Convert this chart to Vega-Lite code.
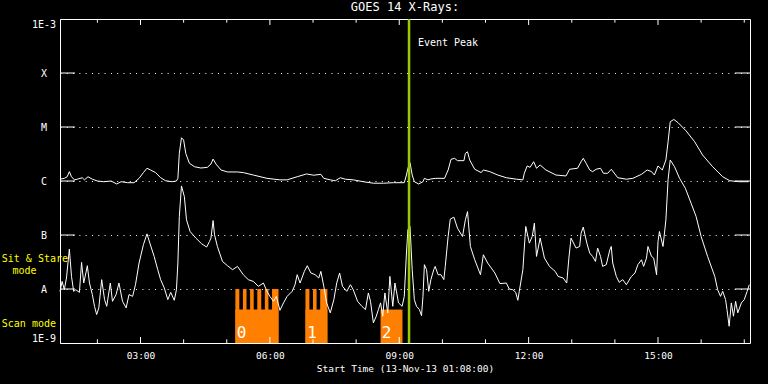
{
"$schema": "https://vega.github.io/schema/vega-lite/v6.json",
"background": "black",
"autosize": {"type": "none"},
"padding": {"left": 60, "top": 19, "right": 18, "bottom": 41},
"width": 690,
"height": 324,
"title": {"text": "GOES 14 X-Rays:", "color": "white", "font": "DejaVu Sans Mono", "fontSize": 12, "fontWeight": "normal", "offset": 4},
"config": {"view": {"stroke": "white", "strokeWidth": 1}},
"layer": [
{
"data": {"values": [
{"t1":"2013-11-13T05:12:00","t2":"2013-11-13T06:12:00","lo":1e-9,"hi":4.16e-9},
{"t1":"2013-11-13T05:12:00","t2":"2013-11-13T05:17:30","lo":1e-9,"hi":1e-8},
{"t1":"2013-11-13T05:22:30","t2":"2013-11-13T05:27:30","lo":1e-9,"hi":1e-8},
{"t1":"2013-11-13T05:32:30","t2":"2013-11-13T05:37:30","lo":1e-9,"hi":1e-8},
{"t1":"2013-11-13T05:42:30","t2":"2013-11-13T05:48:00","lo":1e-9,"hi":1e-8},
{"t1":"2013-11-13T05:53:00","t2":"2013-11-13T05:58:00","lo":1e-9,"hi":1e-8},
{"t1":"2013-11-13T06:03:00","t2":"2013-11-13T06:12:00","lo":1e-9,"hi":1e-8},
{"t1":"2013-11-13T06:49:30","t2":"2013-11-13T07:20:00","lo":1e-9,"hi":4.16e-9},
{"t1":"2013-11-13T06:49:30","t2":"2013-11-13T06:55:00","lo":1e-9,"hi":1e-8},
{"t1":"2013-11-13T07:00:00","t2":"2013-11-13T07:05:00","lo":1e-9,"hi":1e-8},
{"t1":"2013-11-13T07:10:00","t2":"2013-11-13T07:20:00","lo":1e-9,"hi":1e-8},
{"t1":"2013-11-13T08:34:00","t2":"2013-11-13T09:04:30","lo":1e-9,"hi":4.16e-9}
]},
"mark": {"type": "rect", "color": "#ff8000"},
"encoding": {
"x": {"field": "t1", "type": "temporal"},
"x2": {"field": "t2"},
"y": {"field": "lo", "type": "quantitative"},
"y2": {"field": "hi"}
}
},
{
"data": {"values": [
{"c":"L","t":"2013-11-13T01:08","f":1.08e-6},
{"c":"L","t":"2013-11-13T01:14","f":1.12e-6},
{"c":"L","t":"2013-11-13T01:18","f":1.20e-6},
{"c":"L","t":"2013-11-13T01:21","f":1.49e-6},
{"c":"L","t":"2013-11-13T01:24","f":1.20e-6},
{"c":"L","t":"2013-11-13T01:28","f":1.05e-6},
{"c":"L","t":"2013-11-13T01:32","f":1.08e-6},
{"c":"L","t":"2013-11-13T01:39","f":1.15e-6},
{"c":"L","t":"2013-11-13T01:42","f":1.05e-6},
{"c":"L","t":"2013-11-13T01:47","f":1.20e-6},
{"c":"L","t":"2013-11-13T01:53","f":1.08e-6},
{"c":"L","t":"2013-11-13T02:00","f":1.00e-6},
{"c":"L","t":"2013-11-13T02:09","f":9.7e-7},
{"c":"L","t":"2013-11-13T02:19","f":1.00e-6},
{"c":"L","t":"2013-11-13T02:27","f":8.8e-7},
{"c":"L","t":"2013-11-13T02:33","f":9.7e-7},
{"c":"L","t":"2013-11-13T02:42","f":9.3e-7},
{"c":"L","t":"2013-11-13T02:51","f":9.3e-7},
{"c":"L","t":"2013-11-13T02:58","f":1.12e-6},
{"c":"L","t":"2013-11-13T03:04","f":1.43e-6},
{"c":"L","t":"2013-11-13T03:09","f":1.72e-6},
{"c":"L","t":"2013-11-13T03:14","f":1.60e-6},
{"c":"L","t":"2013-11-13T03:21","f":1.43e-6},
{"c":"L","t":"2013-11-13T03:28","f":1.15e-6},
{"c":"L","t":"2013-11-13T03:35","f":1.01e-6},
{"c":"L","t":"2013-11-13T03:44","f":9.7e-7},
{"c":"L","t":"2013-11-13T03:50","f":1.00e-6},
{"c":"L","t":"2013-11-13T03:52","f":1.12e-6},
{"c":"L","t":"2013-11-13T03:54","f":3.25e-6},
{"c":"L","t":"2013-11-13T03:57","f":6.32e-6},
{"c":"L","t":"2013-11-13T04:00","f":5.73e-6},
{"c":"L","t":"2013-11-13T04:03","f":3.25e-6},
{"c":"L","t":"2013-11-13T04:08","f":2.13e-6},
{"c":"L","t":"2013-11-13T04:15","f":1.84e-6},
{"c":"L","t":"2013-11-13T04:24","f":1.74e-6},
{"c":"L","t":"2013-11-13T04:33","f":1.79e-6},
{"c":"L","t":"2013-11-13T04:38","f":2.06e-6},
{"c":"L","t":"2013-11-13T04:41","f":2.55e-6},
{"c":"L","t":"2013-11-13T04:45","f":2.06e-6},
{"c":"L","t":"2013-11-13T04:52","f":1.60e-6},
{"c":"L","t":"2013-11-13T05:01","f":1.47e-6},
{"c":"L","t":"2013-11-13T05:15","f":1.47e-6},
{"c":"L","t":"2013-11-13T05:23","f":1.43e-6},
{"c":"L","t":"2013-11-13T05:37","f":1.29e-6},
{"c":"L","t":"2013-11-13T05:56","f":1.12e-6},
{"c":"L","t":"2013-11-13T06:14","f":1.05e-6},
{"c":"L","t":"2013-11-13T06:24","f":1.05e-6},
{"c":"L","t":"2013-11-13T06:38","f":1.20e-6},
{"c":"L","t":"2013-11-13T06:51","f":1.35e-6},
{"c":"L","t":"2013-11-13T07:01","f":1.28e-6},
{"c":"L","t":"2013-11-13T07:11","f":1.33e-6},
{"c":"L","t":"2013-11-13T07:15","f":1.12e-6},
{"c":"L","t":"2013-11-13T07:24","f":1.05e-6},
{"c":"L","t":"2013-11-13T07:31","f":1.01e-6},
{"c":"L","t":"2013-11-13T07:38","f":1.15e-6},
{"c":"L","t":"2013-11-13T07:45","f":1.08e-6},
{"c":"L","t":"2013-11-13T07:56","f":1.05e-6},
{"c":"L","t":"2013-11-13T08:10","f":9.7e-7},
{"c":"L","t":"2013-11-13T08:24","f":9.1e-7},
{"c":"L","t":"2013-11-13T08:38","f":9.1e-7},
{"c":"L","t":"2013-11-13T08:52","f":9.3e-7},
{"c":"L","t":"2013-11-13T09:07","f":9.3e-7},
{"c":"L","t":"2013-11-13T09:10","f":1.29e-6},
{"c":"L","t":"2013-11-13T09:12","f":1.72e-6},
{"c":"L","t":"2013-11-13T09:15","f":2.18e-6},
{"c":"L","t":"2013-11-13T09:18","f":1.29e-6},
{"c":"L","t":"2013-11-13T09:21","f":9.7e-7},
{"c":"L","t":"2013-11-13T09:27","f":8.8e-7},
{"c":"L","t":"2013-11-13T09:33","f":9.7e-7},
{"c":"L","t":"2013-11-13T09:35","f":1.12e-6},
{"c":"L","t":"2013-11-13T09:40","f":1.05e-6},
{"c":"L","t":"2013-11-13T09:44","f":1.09e-6},
{"c":"L","t":"2013-11-13T09:51","f":1.12e-6},
{"c":"L","t":"2013-11-13T10:03","f":1.12e-6},
{"c":"L","t":"2013-11-13T10:08","f":1.60e-6},
{"c":"L","t":"2013-11-13T10:12","f":2.52e-6},
{"c":"L","t":"2013-11-13T10:17","f":2.63e-6},
{"c":"L","t":"2013-11-13T10:21","f":2.38e-6},
{"c":"L","t":"2013-11-13T10:30","f":2.38e-6},
{"c":"L","t":"2013-11-13T10:32","f":3.25e-6},
{"c":"L","t":"2013-11-13T10:35","f":3.48e-6},
{"c":"L","t":"2013-11-13T10:38","f":2.45e-6},
{"c":"L","t":"2013-11-13T10:45","f":1.65e-6},
{"c":"L","t":"2013-11-13T10:54","f":1.43e-6},
{"c":"L","t":"2013-11-13T10:57","f":1.60e-6},
{"c":"L","t":"2013-11-13T11:06","f":1.49e-6},
{"c":"L","t":"2013-11-13T11:17","f":1.29e-6},
{"c":"L","t":"2013-11-13T11:29","f":1.15e-6},
{"c":"L","t":"2013-11-13T11:43","f":1.08e-6},
{"c":"L","t":"2013-11-13T11:52","f":1.05e-6},
{"c":"L","t":"2013-11-13T11:54","f":1.39e-6},
{"c":"L","t":"2013-11-13T11:58","f":1.90e-6},
{"c":"L","t":"2013-11-13T12:02","f":1.79e-6},
{"c":"L","t":"2013-11-13T12:07","f":2.28e-6},
{"c":"L","t":"2013-11-13T12:11","f":1.72e-6},
{"c":"L","t":"2013-11-13T12:16","f":1.98e-6},
{"c":"L","t":"2013-11-13T12:24","f":1.60e-6},
{"c":"L","t":"2013-11-13T12:38","f":1.29e-6},
{"c":"L","t":"2013-11-13T12:52","f":1.24e-6},
{"c":"L","t":"2013-11-13T12:57","f":1.65e-6},
{"c":"L","t":"2013-11-13T13:08","f":1.72e-6},
{"c":"L","t":"2013-11-13T13:13","f":2.28e-6},
{"c":"L","t":"2013-11-13T13:16","f":2.63e-6},
{"c":"L","t":"2013-11-13T13:20","f":2.13e-6},
{"c":"L","t":"2013-11-13T13:25","f":1.60e-6},
{"c":"L","t":"2013-11-13T13:29","f":1.49e-6},
{"c":"L","t":"2013-11-13T13:34","f":1.65e-6},
{"c":"L","t":"2013-11-13T13:40","f":1.72e-6},
{"c":"L","t":"2013-11-13T13:44","f":1.39e-6},
{"c":"L","t":"2013-11-13T13:50","f":1.39e-6},
{"c":"L","t":"2013-11-13T13:55","f":1.65e-6},
{"c":"L","t":"2013-11-13T14:04","f":1.15e-6},
{"c":"L","t":"2013-11-13T14:16","f":1.08e-6},
{"c":"L","t":"2013-11-13T14:25","f":1.12e-6},
{"c":"L","t":"2013-11-13T14:37","f":1.33e-6},
{"c":"L","t":"2013-11-13T14:45","f":1.60e-6},
{"c":"L","t":"2013-11-13T14:51","f":1.49e-6},
{"c":"L","t":"2013-11-13T14:55","f":1.29e-6},
{"c":"L","t":"2013-11-13T15:00","f":1.90e-6},
{"c":"L","t":"2013-11-13T15:06","f":1.60e-6},
{"c":"L","t":"2013-11-13T15:11","f":2.45e-6},
{"c":"L","t":"2013-11-13T15:14","f":5.33e-6},
{"c":"L","t":"2013-11-13T15:17","f":1.25e-5},
{"c":"L","t":"2013-11-13T15:22","f":1.38e-5},
{"c":"L","t":"2013-11-13T15:28","f":1.20e-5},
{"c":"L","t":"2013-11-13T15:39","f":8.5e-6},
{"c":"L","t":"2013-11-13T15:51","f":5.33e-6},
{"c":"L","t":"2013-11-13T16:02","f":3.03e-6},
{"c":"L","t":"2013-11-13T16:16","f":1.84e-6},
{"c":"L","t":"2013-11-13T16:30","f":1.20e-6},
{"c":"L","t":"2013-11-13T16:40","f":1.01e-6},
{"c":"L","t":"2013-11-13T16:53","f":9.7e-7},
{"c":"L","t":"2013-11-13T17:06","f":9.7e-7},
{"c":"S","t":"2013-11-13T01:08","f":9.05e-9},
{"c":"S","t":"2013-11-13T01:11","f":1.38e-8},
{"c":"S","t":"2013-11-13T01:14","f":9.7e-9},
{"c":"S","t":"2013-11-13T01:17","f":1.60e-8},
{"c":"S","t":"2013-11-13T01:21","f":5.49e-8},
{"c":"S","t":"2013-11-13T01:24","f":1.71e-8},
{"c":"S","t":"2013-11-13T01:27","f":9.05e-9},
{"c":"S","t":"2013-11-13T01:30","f":9.7e-9},
{"c":"S","t":"2013-11-13T01:35","f":8.67e-9},
{"c":"S","t":"2013-11-13T01:38","f":3.11e-8},
{"c":"S","t":"2013-11-13T01:41","f":1.29e-8},
{"c":"S","t":"2013-11-13T01:44","f":1.98e-8},
{"c":"S","t":"2013-11-13T01:46","f":2.70e-8},
{"c":"S","t":"2013-11-13T01:49","f":1.29e-8},
{"c":"S","t":"2013-11-13T01:53","f":7.87e-9},
{"c":"S","t":"2013-11-13T01:56","f":4.78e-9},
{"c":"S","t":"2013-11-13T01:59","f":3.36e-9},
{"c":"S","t":"2013-11-13T02:02","f":4.47e-9},
{"c":"S","t":"2013-11-13T02:06","f":1.49e-8},
{"c":"S","t":"2013-11-13T02:10","f":6.36e-9},
{"c":"S","t":"2013-11-13T02:13","f":4.78e-9},
{"c":"S","t":"2013-11-13T02:18","f":1.29e-8},
{"c":"S","t":"2013-11-13T02:21","f":5.91e-9},
{"c":"S","t":"2013-11-13T02:26","f":7.87e-9},
{"c":"S","t":"2013-11-13T02:30","f":1.29e-8},
{"c":"S","t":"2013-11-13T02:35","f":5.91e-9},
{"c":"S","t":"2013-11-13T02:40","f":4.47e-9},
{"c":"S","t":"2013-11-13T02:44","f":7.87e-9},
{"c":"S","t":"2013-11-13T02:49","f":7.31e-9},
{"c":"S","t":"2013-11-13T02:53","f":1.20e-8},
{"c":"S","t":"2013-11-13T02:58","f":3.03e-8},
{"c":"S","t":"2013-11-13T03:04","f":6.59e-8},
{"c":"S","t":"2013-11-13T03:09","f":1.05e-7},
{"c":"S","t":"2013-11-13T03:13","f":7.08e-8},
{"c":"S","t":"2013-11-13T03:19","f":4.01e-8},
{"c":"S","t":"2013-11-13T03:24","f":2.28e-8},
{"c":"S","t":"2013-11-13T03:28","f":1.49e-8},
{"c":"S","t":"2013-11-13T03:33","f":1.05e-8},
{"c":"S","t":"2013-11-13T03:38","f":6.36e-9},
{"c":"S","t":"2013-11-13T03:42","f":8.67e-9},
{"c":"S","t":"2013-11-13T03:47","f":6.17e-9},
{"c":"S","t":"2013-11-13T03:50","f":9.7e-9},
{"c":"S","t":"2013-11-13T03:52","f":3.03e-8},
{"c":"S","t":"2013-11-13T03:54","f":2.20e-7},
{"c":"S","t":"2013-11-13T03:57","f":8.1e-7},
{"c":"S","t":"2013-11-13T04:01","f":5.14e-7},
{"c":"S","t":"2013-11-13T04:04","f":1.91e-7},
{"c":"S","t":"2013-11-13T04:09","f":1.16e-7},
{"c":"S","t":"2013-11-13T04:17","f":8.77e-8},
{"c":"S","t":"2013-11-13T04:25","f":6.88e-8},
{"c":"S","t":"2013-11-13T04:32","f":5.98e-8},
{"c":"S","t":"2013-11-13T04:36","f":7.59e-8},
{"c":"S","t":"2013-11-13T04:38","f":8.77e-8},
{"c":"S","t":"2013-11-13T04:41","f":1.85e-7},
{"c":"S","t":"2013-11-13T04:43","f":1.01e-7},
{"c":"S","t":"2013-11-13T04:47","f":6.13e-8},
{"c":"S","t":"2013-11-13T04:54","f":3.24e-8},
{"c":"S","t":"2013-11-13T05:01","f":2.70e-8},
{"c":"S","t":"2013-11-13T05:08","f":2.28e-8},
{"c":"S","t":"2013-11-13T05:15","f":2.62e-8},
{"c":"S","t":"2013-11-13T05:23","f":1.84e-8},
{"c":"S","t":"2013-11-13T05:30","f":1.49e-8},
{"c":"S","t":"2013-11-13T05:37","f":1.38e-8},
{"c":"S","t":"2013-11-13T05:44","f":1.12e-8},
{"c":"S","t":"2013-11-13T05:51","f":1.29e-8},
{"c":"S","t":"2013-11-13T05:56","f":9.05e-9},
{"c":"S","t":"2013-11-13T06:00","f":7.31e-9},
{"c":"S","t":"2013-11-13T06:05","f":5.91e-9},
{"c":"S","t":"2013-11-13T06:09","f":7.31e-9},
{"c":"S","t":"2013-11-13T06:14","f":4.03e-9},
{"c":"S","t":"2013-11-13T06:19","f":5.53e-9},
{"c":"S","t":"2013-11-13T06:24","f":7.31e-9},
{"c":"S","t":"2013-11-13T06:31","f":9.05e-9},
{"c":"S","t":"2013-11-13T06:35","f":1.20e-8},
{"c":"S","t":"2013-11-13T06:38","f":1.84e-8},
{"c":"S","t":"2013-11-13T06:42","f":1.29e-8},
{"c":"S","t":"2013-11-13T06:48","f":2.12e-8},
{"c":"S","t":"2013-11-13T06:52","f":2.70e-8},
{"c":"S","t":"2013-11-13T06:57","f":1.98e-8},
{"c":"S","t":"2013-11-13T07:03","f":1.84e-8},
{"c":"S","t":"2013-11-13T07:08","f":1.60e-8},
{"c":"S","t":"2013-11-13T07:11","f":2.12e-8},
{"c":"S","t":"2013-11-13T07:15","f":1.12e-8},
{"c":"S","t":"2013-11-13T07:19","f":5.53e-9},
{"c":"S","t":"2013-11-13T07:24","f":3.61e-9},
{"c":"S","t":"2013-11-13T07:29","f":6.36e-9},
{"c":"S","t":"2013-11-13T07:33","f":1.29e-8},
{"c":"S","t":"2013-11-13T07:37","f":1.98e-8},
{"c":"S","t":"2013-11-13T07:41","f":1.12e-8},
{"c":"S","t":"2013-11-13T07:47","f":9.05e-9},
{"c":"S","t":"2013-11-13T07:52","f":1.20e-8},
{"c":"S","t":"2013-11-13T07:56","f":9.7e-9},
{"c":"S","t":"2013-11-13T08:02","f":5.91e-9},
{"c":"S","t":"2013-11-13T08:08","f":4.78e-9},
{"c":"S","t":"2013-11-13T08:13","f":4.16e-9},
{"c":"S","t":"2013-11-13T08:17","f":8.45e-9},
{"c":"S","t":"2013-11-13T08:20","f":5.91e-9},
{"c":"S","t":"2013-11-13T08:24","f":2.36e-9},
{"c":"S","t":"2013-11-13T08:28","f":3.13e-9},
{"c":"S","t":"2013-11-13T08:31","f":4.16e-9},
{"c":"S","t":"2013-11-13T08:34","f":5.53e-9},
{"c":"S","t":"2013-11-13T08:37","f":3.13e-9},
{"c":"S","t":"2013-11-13T08:40","f":8.45e-9},
{"c":"S","t":"2013-11-13T08:44","f":3.61e-9},
{"c":"S","t":"2013-11-13T08:47","f":1.71e-8},
{"c":"S","t":"2013-11-13T08:51","f":4.78e-9},
{"c":"S","t":"2013-11-13T08:54","f":1.29e-8},
{"c":"S","t":"2013-11-13T08:59","f":5.53e-9},
{"c":"S","t":"2013-11-13T09:04","f":4.78e-9},
{"c":"S","t":"2013-11-13T09:07","f":7.31e-9},
{"c":"S","t":"2013-11-13T09:10","f":4.63e-8},
{"c":"S","t":"2013-11-13T09:12","f":1.25e-7},
{"c":"S","t":"2013-11-13T09:15","f":1.44e-7},
{"c":"S","t":"2013-11-13T09:18","f":2.28e-8},
{"c":"S","t":"2013-11-13T09:21","f":6.36e-9},
{"c":"S","t":"2013-11-13T09:24","f":4.78e-9},
{"c":"S","t":"2013-11-13T09:28","f":4.16e-9},
{"c":"S","t":"2013-11-13T09:31","f":3.22e-9},
{"c":"S","t":"2013-11-13T09:33","f":7.31e-9},
{"c":"S","t":"2013-11-13T09:35","f":2.82e-8},
{"c":"S","t":"2013-11-13T09:38","f":2.28e-8},
{"c":"S","t":"2013-11-13T09:41","f":9.05e-9},
{"c":"S","t":"2013-11-13T09:44","f":1.49e-8},
{"c":"S","t":"2013-11-13T09:48","f":2.28e-8},
{"c":"S","t":"2013-11-13T09:50","f":2.62e-8},
{"c":"S","t":"2013-11-13T09:54","f":1.84e-8},
{"c":"S","t":"2013-11-13T09:58","f":1.84e-8},
{"c":"S","t":"2013-11-13T10:02","f":1.49e-8},
{"c":"S","t":"2013-11-13T10:04","f":2.62e-8},
{"c":"S","t":"2013-11-13T10:08","f":9.38e-8},
{"c":"S","t":"2013-11-13T10:11","f":1.97e-7},
{"c":"S","t":"2013-11-13T10:16","f":2.14e-7},
{"c":"S","t":"2013-11-13T10:21","f":1.34e-7},
{"c":"S","t":"2013-11-13T10:28","f":9.38e-8},
{"c":"S","t":"2013-11-13T10:32","f":1.91e-7},
{"c":"S","t":"2013-11-13T10:35","f":2.72e-7},
{"c":"S","t":"2013-11-13T10:39","f":6.13e-8},
{"c":"S","t":"2013-11-13T10:45","f":3.48e-8},
{"c":"S","t":"2013-11-13T10:53","f":1.84e-8},
{"c":"S","t":"2013-11-13T10:57","f":4.31e-8},
{"c":"S","t":"2013-11-13T11:03","f":3.03e-8},
{"c":"S","t":"2013-11-13T11:13","f":1.98e-8},
{"c":"S","t":"2013-11-13T11:20","f":1.26e-8},
{"c":"S","t":"2013-11-13T11:29","f":1.29e-8},
{"c":"S","t":"2013-11-13T11:33","f":1.00e-8},
{"c":"S","t":"2013-11-13T11:38","f":9.7e-9},
{"c":"S","t":"2013-11-13T11:42","f":8.67e-9},
{"c":"S","t":"2013-11-13T11:45","f":6.17e-9},
{"c":"S","t":"2013-11-13T11:47","f":9.05e-9},
{"c":"S","t":"2013-11-13T11:52","f":2.28e-8},
{"c":"S","t":"2013-11-13T11:56","f":1.44e-7},
{"c":"S","t":"2013-11-13T12:01","f":7.08e-8},
{"c":"S","t":"2013-11-13T12:05","f":9.38e-8},
{"c":"S","t":"2013-11-13T12:08","f":1.66e-7},
{"c":"S","t":"2013-11-13T12:11","f":4.01e-8},
{"c":"S","t":"2013-11-13T12:16","f":8.77e-8},
{"c":"S","t":"2013-11-13T12:22","f":3.74e-8},
{"c":"S","t":"2013-11-13T12:29","f":2.62e-8},
{"c":"S","t":"2013-11-13T12:37","f":2.12e-8},
{"c":"S","t":"2013-11-13T12:41","f":1.71e-8},
{"c":"S","t":"2013-11-13T12:48","f":1.60e-8},
{"c":"S","t":"2013-11-13T12:53","f":1.29e-8},
{"c":"S","t":"2013-11-13T12:56","f":3.74e-8},
{"c":"S","t":"2013-11-13T12:59","f":8.77e-8},
{"c":"S","t":"2013-11-13T13:06","f":5.73e-8},
{"c":"S","t":"2013-11-13T13:11","f":6.13e-8},
{"c":"S","t":"2013-11-13T13:13","f":1.08e-7},
{"c":"S","t":"2013-11-13T13:16","f":1.40e-7},
{"c":"S","t":"2013-11-13T13:21","f":7.08e-8},
{"c":"S","t":"2013-11-13T13:25","f":4.63e-8},
{"c":"S","t":"2013-11-13T13:29","f":4.01e-8},
{"c":"S","t":"2013-11-13T13:33","f":3.24e-8},
{"c":"S","t":"2013-11-13T13:36","f":5.73e-8},
{"c":"S","t":"2013-11-13T13:40","f":4.01e-8},
{"c":"S","t":"2013-11-13T13:43","f":2.62e-8},
{"c":"S","t":"2013-11-13T13:48","f":2.82e-8},
{"c":"S","t":"2013-11-13T13:53","f":5.33e-8},
{"c":"S","t":"2013-11-13T13:55","f":6.13e-8},
{"c":"S","t":"2013-11-13T13:57","f":3.03e-8},
{"c":"S","t":"2013-11-13T14:02","f":1.71e-8},
{"c":"S","t":"2013-11-13T14:06","f":1.33e-8},
{"c":"S","t":"2013-11-13T14:11","f":1.49e-8},
{"c":"S","t":"2013-11-13T14:16","f":1.20e-8},
{"c":"S","t":"2013-11-13T14:23","f":1.71e-8},
{"c":"S","t":"2013-11-13T14:28","f":1.98e-8},
{"c":"S","t":"2013-11-13T14:32","f":2.82e-8},
{"c":"S","t":"2013-11-13T14:37","f":3.48e-8},
{"c":"S","t":"2013-11-13T14:40","f":2.62e-8},
{"c":"S","t":"2013-11-13T14:44","f":3.74e-8},
{"c":"S","t":"2013-11-13T14:46","f":6.13e-8},
{"c":"S","t":"2013-11-13T14:51","f":4.01e-8},
{"c":"S","t":"2013-11-13T14:54","f":3.74e-8},
{"c":"S","t":"2013-11-13T14:58","f":1.84e-8},
{"c":"S","t":"2013-11-13T15:00","f":7.59e-8},
{"c":"S","t":"2013-11-13T15:02","f":1.16e-7},
{"c":"S","t":"2013-11-13T15:07","f":6.13e-8},
{"c":"S","t":"2013-11-13T15:11","f":1.91e-7},
{"c":"S","t":"2013-11-13T15:14","f":1.05e-6},
{"c":"S","t":"2013-11-13T15:17","f":2.45e-6},
{"c":"S","t":"2013-11-13T15:23","f":1.84e-6},
{"c":"S","t":"2013-11-13T15:30","f":1.12e-6},
{"c":"S","t":"2013-11-13T15:38","f":7.35e-7},
{"c":"S","t":"2013-11-13T15:46","f":3.88e-7},
{"c":"S","t":"2013-11-13T15:53","f":2.20e-7},
{"c":"S","t":"2013-11-13T16:00","f":9.38e-8},
{"c":"S","t":"2013-11-13T16:09","f":4.01e-8},
{"c":"S","t":"2013-11-13T16:19","f":1.71e-8},
{"c":"S","t":"2013-11-13T16:23","f":9.7e-9},
{"c":"S","t":"2013-11-13T16:27","f":7.31e-9},
{"c":"S","t":"2013-11-13T16:30","f":9.05e-9},
{"c":"S","t":"2013-11-13T16:34","f":6.36e-9},
{"c":"S","t":"2013-11-13T16:36","f":4.16e-9},
{"c":"S","t":"2013-11-13T16:39","f":2.04e-9},
{"c":"S","t":"2013-11-13T16:42","f":5.53e-9},
{"c":"S","t":"2013-11-13T16:45","f":3.13e-9},
{"c":"S","t":"2013-11-13T16:48","f":5.91e-9},
{"c":"S","t":"2013-11-13T16:51","f":3.61e-9},
{"c":"S","t":"2013-11-13T16:56","f":5.53e-9},
{"c":"S","t":"2013-11-13T17:00","f":6.36e-9},
{"c":"S","t":"2013-11-13T17:04","f":9.05e-9},
{"c":"S","t":"2013-11-13T17:07","f":1.20e-8}
]},
"mark": {"type": "line", "color": "white", "strokeWidth": 1},
"encoding": {
"x": {"field": "t", "type": "temporal",
 "scale": {"domain": [{"year":2013,"month":11,"date":13,"hours":1,"minutes":8},{"year":2013,"month":11,"date":13,"hours":17,"minutes":8}]},
 "axis": {"orient": "bottom", "title": "Start Time (13-Nov-13 01:08:00)", "format": "%H:%M",
  "values": [{"year":2013,"month":11,"date":13,"hours":3},{"year":2013,"month":11,"date":13,"hours":6},{"year":2013,"month":11,"date":13,"hours":9},{"year":2013,"month":11,"date":13,"hours":12},{"year":2013,"month":11,"date":13,"hours":15}],
  "domain": false, "ticks": false, "tickSize": 0, "grid": false,
  "labelFont": "DejaVu Sans Mono", "labelFontSize": 9.5, "labelColor": "white", "labelPadding": 7,
  "titleFont": "DejaVu Sans Mono", "titleFontSize": 9.5, "titleFontWeight": "normal", "titleColor": "white", "titlePadding": 4}},
"y": {"field": "f", "type": "quantitative",
 "scale": {"type": "log", "domain": [1e-9, 1e-3], "nice": false},
 "axis": {"title": null, "values": [1e-9, 1e-8, 1e-7, 1e-6, 1e-5, 1e-4, 1e-3],
  "labelExpr": "datum.value > 5e-4 ? '1E-3' : datum.value > 5e-5 ? 'X' : datum.value > 5e-6 ? 'M' : datum.value > 5e-7 ? 'C' : datum.value > 5e-8 ? 'B' : datum.value > 5e-9 ? 'A' : '1E-9'",
  "domain": false, "ticks": false, "tickSize": 0, "labelAlign": "center", "labelPadding": 16.5, "labelFlush": true,
  "labelFont": "DejaVu Sans Mono", "labelFontSize": 10, "labelColor": "white",
  "grid": true, "gridColor": "white", "gridOpacity": 1, "gridWidth": 1, "gridDash": [1, 5.3]}},
"detail": {"field": "c", "type": "nominal"}
}
},
{
"data": {"values": [{"t": "2013-11-13T09:13:36"}]},
"mark": {"type": "rule", "color": "#99cc00", "strokeWidth": 2.5},
"encoding": {"x": {"field": "t", "type": "temporal"}}
},
{
"data": {"values": [
{"lv":1e-8,"a":"2013-11-13T01:08:00","b":"2013-11-13T01:28:52"},
{"lv":1e-7,"a":"2013-11-13T01:08:00","b":"2013-11-13T01:28:52"},
{"lv":1e-6,"a":"2013-11-13T01:08:00","b":"2013-11-13T01:28:52"},
{"lv":1e-5,"a":"2013-11-13T01:08:00","b":"2013-11-13T01:28:52"},
{"lv":1e-4,"a":"2013-11-13T01:08:00","b":"2013-11-13T01:28:52"},
{"lv":1e-8,"a":"2013-11-13T16:47:08","b":"2013-11-13T17:08:00"},
{"lv":1e-7,"a":"2013-11-13T16:47:08","b":"2013-11-13T17:08:00"},
{"lv":1e-6,"a":"2013-11-13T16:47:08","b":"2013-11-13T17:08:00"},
{"lv":1e-5,"a":"2013-11-13T16:47:08","b":"2013-11-13T17:08:00"},
{"lv":1e-4,"a":"2013-11-13T16:47:08","b":"2013-11-13T17:08:00"}
]},
"mark": {"type": "rule", "color": "white", "strokeWidth": 1},
"encoding": {
"y": {"field": "lv", "type": "quantitative"},
"x": {"field": "a", "type": "temporal"},
"x2": {"field": "b"}
}
},
{
"data": {"values": [
{"t":"2013-11-13T03:00","a":1e-9,"b":1.29e-9},{"t":"2013-11-13T06:00","a":1e-9,"b":1.29e-9},{"t":"2013-11-13T09:00","a":1e-9,"b":1.29e-9},{"t":"2013-11-13T12:00","a":1e-9,"b":1.29e-9},{"t":"2013-11-13T15:00","a":1e-9,"b":1.29e-9},
{"t":"2013-11-13T03:00","a":1e-3,"b":7.75e-4},{"t":"2013-11-13T06:00","a":1e-3,"b":7.75e-4},{"t":"2013-11-13T09:00","a":1e-3,"b":7.75e-4},{"t":"2013-11-13T12:00","a":1e-3,"b":7.75e-4},{"t":"2013-11-13T15:00","a":1e-3,"b":7.75e-4},
{"t":"2013-11-13T02:00","a":1e-9,"b":1.17e-9},{"t":"2013-11-13T04:00","a":1e-9,"b":1.17e-9},{"t":"2013-11-13T05:00","a":1e-9,"b":1.17e-9},{"t":"2013-11-13T07:00","a":1e-9,"b":1.17e-9},{"t":"2013-11-13T08:00","a":1e-9,"b":1.17e-9},{"t":"2013-11-13T10:00","a":1e-9,"b":1.17e-9},{"t":"2013-11-13T11:00","a":1e-9,"b":1.17e-9},{"t":"2013-11-13T13:00","a":1e-9,"b":1.17e-9},{"t":"2013-11-13T14:00","a":1e-9,"b":1.17e-9},{"t":"2013-11-13T16:00","a":1e-9,"b":1.17e-9},{"t":"2013-11-13T17:00","a":1e-9,"b":1.17e-9},
{"t":"2013-11-13T02:00","a":1e-3,"b":8.55e-4},{"t":"2013-11-13T04:00","a":1e-3,"b":8.55e-4},{"t":"2013-11-13T05:00","a":1e-3,"b":8.55e-4},{"t":"2013-11-13T07:00","a":1e-3,"b":8.55e-4},{"t":"2013-11-13T08:00","a":1e-3,"b":8.55e-4},{"t":"2013-11-13T10:00","a":1e-3,"b":8.55e-4},{"t":"2013-11-13T11:00","a":1e-3,"b":8.55e-4},{"t":"2013-11-13T13:00","a":1e-3,"b":8.55e-4},{"t":"2013-11-13T14:00","a":1e-3,"b":8.55e-4},{"t":"2013-11-13T16:00","a":1e-3,"b":8.55e-4},{"t":"2013-11-13T17:00","a":1e-3,"b":8.55e-4}
]},
"mark": {"type": "rule", "color": "white", "strokeWidth": 1},
"encoding": {"x": {"field": "t", "type": "temporal"}, "y": {"field": "a", "type": "quantitative"}, "y2": {"field": "b"}}
},
{
"data": {"values": [{"t":"2013-11-13T09:26","f":3.54e-4,"s":"Event Peak"}]},
"mark": {"type": "text", "color": "white", "font": "DejaVu Sans Mono", "fontSize": 10, "align": "left", "baseline": "middle"},
"encoding": {"x": {"field": "t", "type": "temporal"}, "y": {"field": "f", "type": "quantitative"}, "text": {"field": "s", "type": "nominal"}}
},
{
"data": {"values": [
{"t":"2013-11-12T23:47","f":3.63e-8,"s":"Sit & Stare"},
{"t":"2013-11-13T00:02","f":2.18e-8,"s":"mode"},
{"t":"2013-11-12T23:47","f":2.29e-9,"s":"Scan mode"}
]},
"mark": {"type": "text", "color": "#ffff00", "font": "DejaVu Sans Mono", "fontSize": 10, "align": "left", "baseline": "middle"},
"encoding": {"x": {"field": "t", "type": "temporal"}, "y": {"field": "f", "type": "quantitative"}, "text": {"field": "s", "type": "nominal"}}
},
{
"data": {"values": [
{"t":"2013-11-13T05:14","f":1.53e-9,"s":"0"},
{"t":"2013-11-13T06:52","f":1.53e-9,"s":"1"},
{"t":"2013-11-13T08:35:30","f":1.53e-9,"s":"2"}
]},
"mark": {"type": "text", "color": "white", "font": "DejaVu Sans Mono", "fontSize": 16, "align": "left", "baseline": "middle"},
"encoding": {"x": {"field": "t", "type": "temporal"}, "y": {"field": "f", "type": "quantitative"}, "text": {"field": "s", "type": "nominal"}}
}
]
}
